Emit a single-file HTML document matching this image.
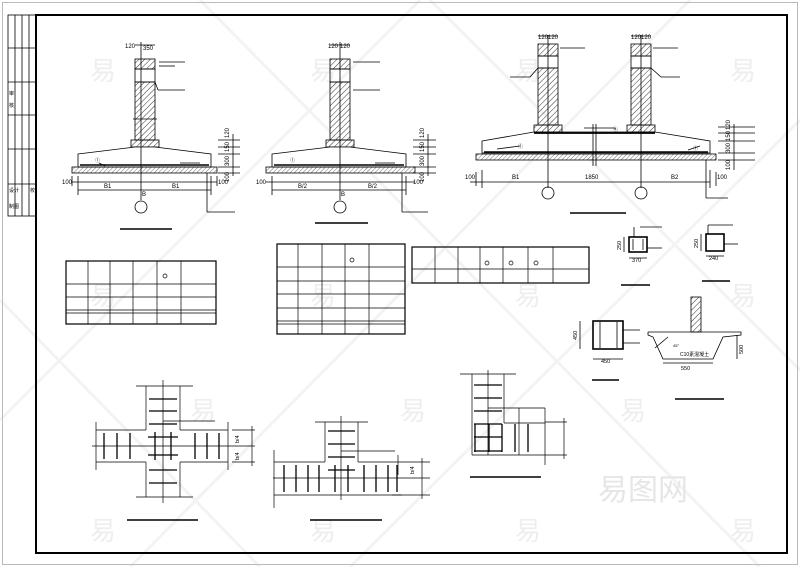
<!DOCTYPE html>
<html><head><meta charset="utf-8"><style>
html,body{margin:0;padding:0;background:#fff}
svg{display:block}
text{font-family:"Liberation Sans","Noto Sans CJK SC",sans-serif;fill:#000}
</style></head><body>
<svg width="800" height="567" viewBox="0 0 800 567" xmlns="http://www.w3.org/2000/svg">
<defs>
<pattern id="h" width="4" height="4" patternUnits="userSpaceOnUse" patternTransform="rotate(45)">
<line x1="0" y1="0" x2="0" y2="4" stroke="#000" stroke-width="0.8"/></pattern>
<pattern id="b" width="3" height="3" patternUnits="userSpaceOnUse" patternTransform="rotate(45)">
<line x1="0" y1="0" x2="0" y2="3" stroke="#333" stroke-width="0.7"/></pattern>
</defs>
<rect x="0" y="0" width="800" height="567" fill="#fff"/>
<g stroke="#f3f3f3" stroke-width="3" fill="none">
<line x1="430" y1="0" x2="800" y2="370"/><line x1="0" y1="300" x2="260" y2="567"/>
<line x1="200" y1="0" x2="760" y2="567"/><line x1="800" y1="120" x2="350" y2="567"/>
<line x1="420" y1="0" x2="0" y2="420"/><line x1="690" y1="0" x2="130" y2="567"/>
</g>
<g font-size="26">
<text x="90" y="80" style="fill:#eeeeee">易</text><text x="90" y="305" style="fill:#eeeeee">易</text>
<text x="90" y="540" style="fill:#eeeeee">易</text><text x="310" y="80" style="fill:#eeeeee">易</text>
<text x="310" y="305" style="fill:#eeeeee">易</text><text x="515" y="80" style="fill:#eeeeee">易</text>
<text x="515" y="305" style="fill:#eeeeee">易</text><text x="730" y="80" style="fill:#eeeeee">易</text>
<text x="730" y="305" style="fill:#eeeeee">易</text><text x="620" y="420" style="fill:#eeeeee">易</text>
<text x="730" y="540" style="fill:#eeeeee">易</text><text x="515" y="540" style="fill:#eeeeee">易</text>
<text x="190" y="420" style="fill:#eeeeee">易</text><text x="400" y="420" style="fill:#eeeeee">易</text>
<text x="310" y="540" style="fill:#eeeeee">易</text>
<text x="598" y="500" font-size="30" style="fill:#e6e6e6">易图网</text>
</g>
<rect x="2.5" y="2.5" width="795" height="562" fill="none" stroke="#bbb" stroke-width="1"/>
<rect x="36" y="15" width="751" height="538" fill="none" stroke="#000" stroke-width="2"/>
<g stroke="#000" stroke-width="0.8" fill="none">
<rect x="8" y="15" width="28" height="201"/>
<line x1="15" y1="15" x2="15" y2="216"/><line x1="22" y1="15" x2="22" y2="216"/><line x1="29" y1="15" x2="29" y2="216"/>
<line x1="8" y1="48" x2="36" y2="48"/><line x1="8" y1="82" x2="36" y2="82"/><line x1="8" y1="115" x2="36" y2="115"/>
<line x1="8" y1="149" x2="36" y2="149"/><line x1="8" y1="184" x2="36" y2="184"/>
</g>
<g font-size="5"><text x="9" y="95">审</text><text x="9" y="107">核</text>
<text x="9" y="192">设计</text><text x="9" y="208">制图</text><text x="30" y="192">校</text></g>

<g stroke="#000" stroke-width="0.8" fill="none">
<rect x="135" y="59" width="20" height="10" fill="url(#h)"/>
<rect x="135" y="69" width="20" height="13"/>
<rect x="135" y="82" width="20" height="58" fill="url(#h)"/>
<rect x="131" y="140" width="28" height="7" fill="url(#h)"/>
<line x1="133" y1="119" x2="157" y2="119"/>
<polygon points="78,154 135,147 155,147 211,154 211,167 78,167" fill="#fff"/>
<rect x="72" y="167" width="145" height="6" fill="url(#b)"/>
<line x1="80" y1="165" x2="209" y2="165" stroke-width="1.5"/>
<line x1="141" y1="42" x2="141" y2="200"/>
<line x1="72" y1="182" x2="217" y2="182"/><line x1="78" y1="190" x2="211" y2="190"/>
<line x1="78" y1="176" x2="78" y2="195"/><line x1="211" y1="176" x2="211" y2="195"/><line x1="72" y1="176" x2="72" y2="186"/><line x1="217" y1="176" x2="217" y2="186"/>
<circle cx="141" cy="207" r="6"/>
<line x1="207" y1="173" x2="207" y2="212"/><line x1="207" y1="212" x2="235" y2="212"/>
<line x1="158" y1="90" x2="185" y2="90"/><line x1="155" y1="82" x2="158" y2="90"/>
<line x1="159" y1="62" x2="185" y2="62"/><line x1="159" y1="66" x2="175" y2="66"/>
<line x1="180" y1="163" x2="200" y2="163"/><line x1="99" y1="163" x2="105" y2="166"/>
<line x1="233" y1="134" x2="233" y2="176"/>
<line x1="218" y1="140" x2="240" y2="140"/><line x1="218" y1="147" x2="240" y2="147"/><line x1="218" y1="154" x2="240" y2="154"/><line x1="218" y1="167" x2="240" y2="167"/><line x1="218" y1="173" x2="240" y2="173"/>
<line x1="135" y1="45" x2="155" y2="45"/>
</g>
<g font-size="6">
<text x="125" y="48">120</text><text x="143" y="50">350</text>
<text x="62" y="184">100</text><text x="104" y="188">B1</text><text x="172" y="188">B1</text><text x="218" y="184">100</text><text x="142" y="196">B</text>
<text x="95" y="162" font-size="5">①</text>
<g transform="translate(229,138) rotate(-90)"><text>120</text></g>
<g transform="translate(229,152) rotate(-90)"><text>150</text></g>
<g transform="translate(229,166) rotate(-90)"><text>300</text></g>
<g transform="translate(229,182) rotate(-90)"><text>100</text></g>
</g>
<line x1="120" y1="229" x2="172" y2="229" stroke="#000" stroke-width="1.5"/>

<g stroke="#000" stroke-width="0.8" fill="none">
<rect x="330" y="59" width="20" height="10" fill="url(#h)"/>
<rect x="330" y="69" width="20" height="13"/>
<rect x="330" y="82" width="20" height="58" fill="url(#h)"/>
<rect x="326" y="140" width="28" height="7" fill="url(#h)"/>
<polygon points="272,154 330,147 350,147 406,154 406,167 272,167" fill="#fff"/>
<rect x="266" y="167" width="149" height="6" fill="url(#b)"/>
<line x1="274" y1="165" x2="404" y2="165" stroke-width="1.5"/>
<line x1="340" y1="42" x2="340" y2="200"/>
<line x1="266" y1="182" x2="415" y2="182"/><line x1="272" y1="190" x2="406" y2="190"/>
<line x1="272" y1="176" x2="272" y2="195"/><line x1="406" y1="176" x2="406" y2="195"/>
<circle cx="340" cy="207" r="6"/>
<line x1="402" y1="173" x2="402" y2="212"/><line x1="402" y1="212" x2="428" y2="212"/>
<line x1="353" y1="62" x2="380" y2="62"/><line x1="353" y1="90" x2="380" y2="90"/>
<line x1="375" y1="163" x2="395" y2="163"/>
<line x1="428" y1="134" x2="428" y2="176"/>
<line x1="413" y1="140" x2="436" y2="140"/><line x1="413" y1="147" x2="436" y2="147"/><line x1="413" y1="154" x2="436" y2="154"/><line x1="413" y1="167" x2="436" y2="167"/><line x1="413" y1="173" x2="436" y2="173"/>
<line x1="330" y1="45" x2="350" y2="45"/>
</g>
<g font-size="6">
<text x="328" y="48">120</text><text x="340" y="48">120</text>
<text x="256" y="184">100</text><text x="298" y="188">B/2</text><text x="368" y="188">B/2</text><text x="413" y="184">100</text><text x="341" y="196">B</text>
<text x="290" y="162" font-size="5">①</text>
<g transform="translate(424,138) rotate(-90)"><text>120</text></g>
<g transform="translate(424,152) rotate(-90)"><text>150</text></g>
<g transform="translate(424,166) rotate(-90)"><text>300</text></g>
<g transform="translate(424,182) rotate(-90)"><text>100</text></g>
</g>
<line x1="315" y1="223" x2="368" y2="223" stroke="#000" stroke-width="1.5"/>

<g stroke="#000" stroke-width="0.8" fill="none">
<rect x="538" y="44" width="20" height="12" fill="url(#h)"/>
<rect x="538" y="56" width="20" height="12"/>
<rect x="538" y="68" width="20" height="57" fill="url(#h)"/>
<rect x="534" y="125" width="28" height="7" fill="url(#h)"/>
<rect x="631" y="44" width="20" height="12" fill="url(#h)"/>
<rect x="631" y="56" width="20" height="12"/>
<rect x="631" y="68" width="20" height="57" fill="url(#h)"/>
<rect x="627" y="125" width="28" height="7" fill="url(#h)"/>
<polygon points="482,141 534,132 655,132 710,141 710,153 482,153" fill="#fff"/>
<line x1="534" y1="133" x2="655" y2="133" stroke-width="1.8"/>
<rect x="476" y="154" width="240" height="6" fill="url(#b)"/>
<line x1="484" y1="152" x2="708" y2="152" stroke-width="1.4"/>
<line x1="548" y1="35" x2="548" y2="188"/><line x1="641" y1="35" x2="641" y2="188"/>
<line x1="596" y1="124" x2="596" y2="166"/><line x1="593" y1="124" x2="593" y2="166"/>
<line x1="482" y1="182" x2="710" y2="182"/><line x1="470" y1="182" x2="482" y2="182"/>
<line x1="482" y1="170" x2="482" y2="188"/><line x1="710" y1="170" x2="710" y2="188"/><line x1="476" y1="172" x2="476" y2="186"/><line x1="716" y1="172" x2="716" y2="186"/>
<circle cx="548" cy="193" r="6"/><circle cx="641" cy="193" r="6"/>
<line x1="706" y1="160" x2="706" y2="198"/><line x1="706" y1="198" x2="728" y2="198"/>
<line x1="560" y1="48" x2="585" y2="48"/><line x1="653" y1="48" x2="678" y2="48"/>
<line x1="510" y1="77" x2="530" y2="77"/><line x1="530" y1="77" x2="538" y2="68"/>
<line x1="661" y1="77" x2="680" y2="77"/><line x1="651" y1="68" x2="661" y2="77"/>
<line x1="497" y1="149" x2="520" y2="146"/><line x1="688" y1="150" x2="700" y2="146"/>
<line x1="584" y1="128" x2="615" y2="128"/>
<line x1="734" y1="124" x2="734" y2="170"/>
<line x1="718" y1="127" x2="755" y2="127"/><line x1="718" y1="133" x2="755" y2="133"/><line x1="718" y1="141" x2="755" y2="141"/><line x1="718" y1="153" x2="755" y2="153"/><line x1="718" y1="160" x2="755" y2="160"/>
<line x1="538" y1="36" x2="558" y2="36"/><line x1="631" y1="36" x2="651" y2="36"/>
</g>
<g font-size="6">
<text x="538" y="39">120</text><text x="548" y="39">120</text><text x="631" y="39">120</text><text x="641" y="39">120</text>
<text x="465" y="179">100</text><text x="512" y="179">B1</text><text x="585" y="179">1850</text><text x="671" y="179">B2</text><text x="717" y="179">100</text>
<text x="518" y="148" font-size="5">①</text><text x="613" y="131" font-size="5">④</text><text x="693" y="150" font-size="5">①</text>
<g transform="translate(730,130) rotate(-90)"><text>120</text></g>
<g transform="translate(730,141) rotate(-90)"><text>150</text></g>
<g transform="translate(730,153) rotate(-90)"><text>300</text></g>
<g transform="translate(730,170) rotate(-90)"><text>100</text></g>
</g>
<line x1="570" y1="213" x2="626" y2="213" stroke="#000" stroke-width="1.5"/>

<g stroke="#000" fill="none" stroke-width="0.7">
<rect x="66" y="261" width="150" height="63" stroke-width="1.2"/>
<line x1="88" y1="261" x2="88" y2="324"/><line x1="110" y1="261" x2="110" y2="324"/><line x1="133" y1="261" x2="133" y2="324"/><line x1="157" y1="261" x2="157" y2="324"/><line x1="181" y1="261" x2="181" y2="324"/>
<line x1="66" y1="284" x2="216" y2="284"/><line x1="66" y1="297" x2="216" y2="297"/><line x1="66" y1="310" x2="216" y2="310"/><line x1="66" y1="313" x2="216" y2="313"/>
<circle cx="165" cy="276" r="2"/>
<rect x="277" y="244" width="128" height="90" stroke-width="1.2"/>
<line x1="298" y1="244" x2="298" y2="334"/><line x1="322" y1="244" x2="322" y2="334"/><line x1="345" y1="244" x2="345" y2="334"/><line x1="369" y1="244" x2="369" y2="334"/>
<line x1="277" y1="267" x2="405" y2="267"/><line x1="277" y1="281" x2="405" y2="281"/><line x1="277" y1="294" x2="405" y2="294"/><line x1="277" y1="308" x2="405" y2="308"/><line x1="277" y1="321" x2="405" y2="321"/><line x1="277" y1="324" x2="405" y2="324"/>
<circle cx="352" cy="260" r="2"/>
<rect x="412" y="247" width="177" height="36" stroke-width="1.2"/>
<line x1="435" y1="247" x2="435" y2="283"/><line x1="458" y1="247" x2="458" y2="283"/><line x1="480" y1="247" x2="480" y2="283"/><line x1="503" y1="247" x2="503" y2="283"/><line x1="528" y1="247" x2="528" y2="283"/><line x1="553" y1="247" x2="553" y2="283"/>
<line x1="412" y1="269" x2="589" y2="269"/>
<circle cx="487" cy="263" r="2"/><circle cx="511" cy="263" r="2"/><circle cx="536" cy="263" r="2"/>
</g>

<g stroke="#000" fill="none" stroke-width="0.8">
<rect x="629" y="237" width="18" height="15" stroke-width="1.6"/>
<line x1="633" y1="239" x2="633" y2="250"/><line x1="643" y1="239" x2="643" y2="250"/>
<line x1="634" y1="227" x2="634" y2="237"/><line x1="640" y1="227" x2="662" y2="227"/><line x1="647" y1="248" x2="662" y2="248"/>
<line x1="624" y1="237" x2="624" y2="252"/><line x1="629" y1="258" x2="647" y2="258"/>
<line x1="621" y1="285" x2="650" y2="285" stroke-width="1.5"/>
<rect x="706" y="234" width="18" height="17" stroke-width="1.6"/>
<line x1="708" y1="225" x2="708" y2="234"/><line x1="708" y1="225" x2="733" y2="225"/><line x1="724" y1="244" x2="738" y2="244"/>
<line x1="701" y1="234" x2="701" y2="251"/><line x1="706" y1="256" x2="724" y2="256"/>
<line x1="702" y1="281" x2="730" y2="281" stroke-width="1.5"/>
<rect x="593" y="321" width="30" height="28" stroke-width="1.6"/>
<line x1="600" y1="322" x2="600" y2="348"/><line x1="617" y1="322" x2="617" y2="348"/>
<line x1="580" y1="321" x2="580" y2="349"/><line x1="593" y1="359" x2="623" y2="359"/>
<line x1="623" y1="330" x2="640" y2="330"/><line x1="623" y1="343" x2="640" y2="343"/>
<line x1="592" y1="380" x2="619" y2="380" stroke-width="1.5"/>
<rect x="691" y="297" width="10" height="35" fill="url(#h)"/>
<polyline points="648,332 741,332 741,335 723,337 713,359 663,359 653,337 648,335 648,332"/>
<line x1="655" y1="348" x2="668" y2="337"/>
<line x1="663" y1="363" x2="713" y2="363"/><line x1="737" y1="335" x2="737" y2="359"/>
<line x1="675" y1="399" x2="724" y2="399" stroke-width="1.5"/>
</g>
<g font-size="5.5">
<g transform="translate(621,250) rotate(-90)"><text>250</text></g><text x="632" y="262">370</text>
<g transform="translate(698,248) rotate(-90)"><text>250</text></g><text x="709" y="260">240</text>
<g transform="translate(577,340) rotate(-90)"><text>450</text></g><text x="601" y="363">450</text>
<text x="680" y="356" font-size="5">C10素混凝土</text><text x="673" y="347" font-size="4">45°</text>
<text x="681" y="370">550</text><g transform="translate(743,354) rotate(-90)"><text>500</text></g>
</g>

<g stroke="#000" fill="none" stroke-width="0.7">
<line x1="146" y1="386" x2="146" y2="430"/><line x1="180" y1="386" x2="180" y2="430"/>
<line x1="146" y1="462" x2="146" y2="497"/><line x1="180" y1="462" x2="180" y2="497"/>
<line x1="96" y1="430" x2="146" y2="430"/><line x1="180" y1="430" x2="228" y2="430"/>
<line x1="96" y1="462" x2="146" y2="462"/><line x1="180" y1="462" x2="228" y2="462"/>
<line x1="136" y1="386" x2="193" y2="386"/><line x1="136" y1="497" x2="193" y2="497"/>
<line x1="163" y1="380" x2="163" y2="503"/><line x1="92" y1="446" x2="232" y2="446"/>
<line x1="96" y1="422" x2="96" y2="470"/><line x1="228" y1="422" x2="228" y2="470"/>
<g stroke-width="1.3">
<line x1="149" y1="399" x2="177" y2="399"/><line x1="149" y1="411" x2="177" y2="411"/><line x1="149" y1="424" x2="177" y2="424"/>
<line x1="149" y1="470" x2="177" y2="470"/><line x1="149" y1="483" x2="177" y2="483"/>
<line x1="104" y1="433" x2="104" y2="459"/><line x1="117" y1="433" x2="117" y2="459"/><line x1="130" y1="433" x2="130" y2="459"/>
<line x1="195" y1="433" x2="195" y2="459"/><line x1="207" y1="433" x2="207" y2="459"/><line x1="219" y1="433" x2="219" y2="459"/>
<line x1="155" y1="432" x2="155" y2="460"/><line x1="171" y1="432" x2="171" y2="460"/>
<line x1="148" y1="437" x2="178" y2="437"/><line x1="148" y1="455" x2="178" y2="455"/>
</g>
<line x1="163" y1="421" x2="215" y2="421"/>
<line x1="232" y1="430" x2="255" y2="430"/><line x1="232" y1="446" x2="255" y2="446"/><line x1="232" y1="462" x2="255" y2="462"/>
<line x1="252" y1="426" x2="252" y2="466"/>
</g>
<g font-size="5.5"><g transform="translate(239,443) rotate(-90)"><text>b/4</text></g><g transform="translate(239,460) rotate(-90)"><text>b/4</text></g></g>
<line x1="127" y1="520" x2="198" y2="520" stroke="#000" stroke-width="1.5"/>

<g stroke="#000" fill="none" stroke-width="0.7">
<line x1="325" y1="422" x2="325" y2="462"/><line x1="358" y1="422" x2="358" y2="462"/>
<line x1="315" y1="422" x2="368" y2="422"/>
<line x1="274" y1="462" x2="325" y2="462"/><line x1="358" y1="462" x2="402" y2="462"/>
<line x1="274" y1="495" x2="402" y2="495"/>
<line x1="274" y1="450" x2="274" y2="508"/><line x1="341" y1="416" x2="341" y2="500"/>
<line x1="273" y1="478" x2="405" y2="478"/>
<g stroke-width="1.3">
<line x1="328" y1="431" x2="355" y2="431"/><line x1="328" y1="444" x2="355" y2="444"/><line x1="328" y1="457" x2="355" y2="457"/><line x1="328" y1="470" x2="355" y2="470"/>
<line x1="284" y1="465" x2="284" y2="492"/><line x1="296" y1="465" x2="296" y2="492"/><line x1="308" y1="465" x2="308" y2="492"/><line x1="319" y1="465" x2="319" y2="492"/>
<line x1="335" y1="465" x2="335" y2="492"/><line x1="348" y1="465" x2="348" y2="492"/>
<line x1="364" y1="465" x2="364" y2="492"/><line x1="376" y1="465" x2="376" y2="492"/><line x1="388" y1="465" x2="388" y2="492"/><line x1="397" y1="465" x2="397" y2="492"/>
</g>
<line x1="341" y1="451" x2="395" y2="451"/>
<line x1="402" y1="462" x2="430" y2="462"/><line x1="405" y1="478" x2="430" y2="478"/><line x1="392" y1="495" x2="430" y2="495"/>
<line x1="422" y1="458" x2="422" y2="499"/><line x1="398" y1="455" x2="398" y2="475"/>
</g>
<g font-size="5.5"><g transform="translate(414,474) rotate(-90)"><text>b/4</text></g></g>
<line x1="310" y1="520" x2="382" y2="520" stroke="#000" stroke-width="1.5"/>

<g stroke="#000" fill="none" stroke-width="0.7">
<line x1="472" y1="374" x2="472" y2="455"/><line x1="504" y1="374" x2="504" y2="423"/>
<line x1="460" y1="374" x2="516" y2="374"/>
<line x1="504" y1="423" x2="545" y2="423"/><line x1="472" y1="455" x2="545" y2="455"/>
<line x1="488" y1="370" x2="488" y2="455"/><line x1="488" y1="408" x2="545" y2="408"/>
<line x1="519" y1="408" x2="519" y2="455"/><line x1="545" y1="408" x2="545" y2="465"/>
<g stroke-width="1.3">
<line x1="474" y1="385" x2="502" y2="385"/><line x1="474" y1="398" x2="502" y2="398"/><line x1="474" y1="411" x2="502" y2="411"/>
<line x1="474" y1="424" x2="502" y2="424"/><line x1="474" y1="437" x2="502" y2="437"/><line x1="474" y1="451" x2="502" y2="451"/>
<line x1="475" y1="424" x2="475" y2="452"/><line x1="489" y1="424" x2="489" y2="452"/><line x1="502" y1="424" x2="502" y2="452"/>
<line x1="515" y1="424" x2="515" y2="452"/><line x1="528" y1="424" x2="528" y2="452"/>
</g>
<line x1="545" y1="422" x2="567" y2="422"/><line x1="545" y1="455" x2="567" y2="455"/><line x1="564" y1="418" x2="564" y2="459"/>
</g>
<line x1="470" y1="477" x2="541" y2="477" stroke="#000" stroke-width="1.5"/>
</svg>
</body></html>
